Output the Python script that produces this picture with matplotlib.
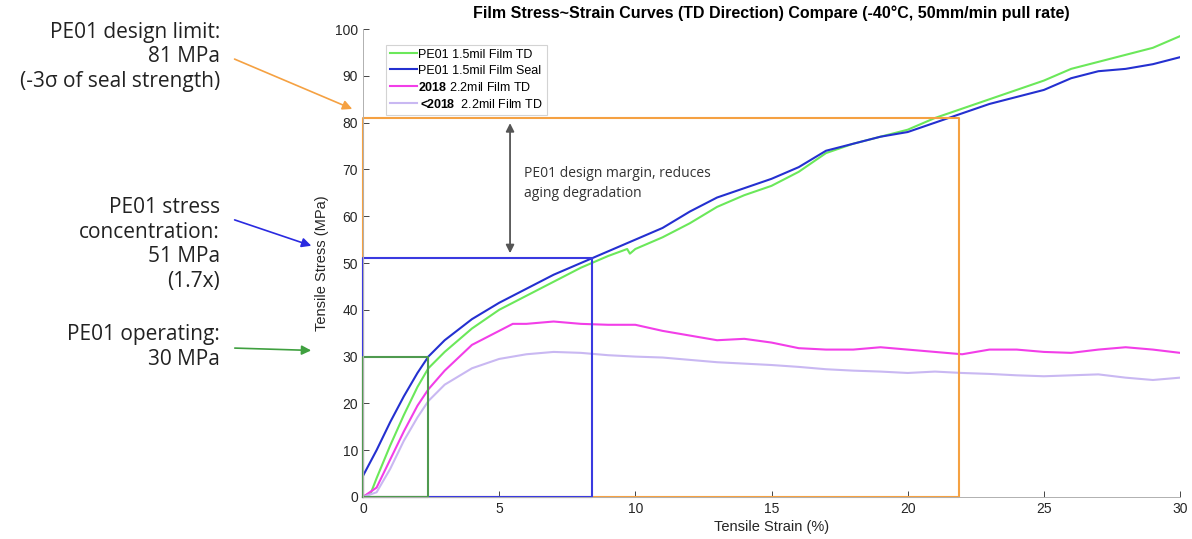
import numpy as np
import matplotlib.pyplot as plt

plt.rcParams['font.family'] = ['Liberation Sans', 'DejaVu Sans']
plt.rcParams['mathtext.fontset'] = 'custom'
plt.rcParams['mathtext.bf'] = 'Liberation Sans:bold'
plt.rcParams['mathtext.rm'] = 'Liberation Sans'

# Stress-strain curves, strain (%) vs stress (MPa)
strain_td = [0, 0.3, 0.5, 1, 1.5, 2, 2.4, 3, 4, 5, 6, 7, 8, 9, 9.7, 9.8, 10, 11, 12, 13,
             14, 15, 16, 17, 18, 19, 20, 21, 22, 23, 24, 25, 26, 27, 28, 29, 30]
stress_td = [0, 1, 4, 11, 17.5, 23.5, 27.5, 31, 36, 40, 43, 46, 49, 51.5, 53, 52, 53, 55.5, 58.5, 62,
             64.5, 66.5, 69.5, 73.5, 75.5, 77, 78.5, 81, 83, 85, 87, 89, 91.5, 93, 94.5, 96, 98.5]

strain_seal = [0, 0.5, 1, 1.5, 2, 2.4, 3, 4, 5, 6, 7, 8, 8.4, 10, 11, 12, 13, 14, 15,
               16, 17, 18, 19, 20, 21, 22, 23, 24, 25, 26, 27, 28, 29, 30]
stress_seal = [4.5, 10, 16, 21.5, 26.5, 30, 33.5, 38, 41.5, 44.5, 47.5, 50, 51, 55, 57.5, 61, 64, 66, 68,
               70.5, 74, 75.5, 77, 78, 80, 82, 84, 85.5, 87, 89.5, 91, 91.5, 92.5, 94]

strain_2018 = [0, 0.5, 1, 1.5, 2, 2.4, 3, 4, 5, 5.5, 6, 7, 8, 9, 10, 11, 12, 13, 14, 15,
               16, 17, 18, 19, 20, 21, 22, 23, 24, 25, 26, 27, 28, 29, 30]
stress_2018 = [0, 2, 8, 14, 19.5, 23, 27, 32.5, 35.5, 37, 37, 37.5, 37, 36.8, 36.8, 35.5, 34.5, 33.5, 33.8, 33,
               31.8, 31.5, 31.5, 32, 31.5, 31, 30.5, 31.5, 31.5, 31, 30.8, 31.5, 32, 31.5, 30.8]

strain_old = [0, 0.5, 1, 1.5, 2, 2.4, 3, 4, 5, 6, 7, 8, 9, 10, 11, 12, 13, 14, 15,
              16, 17, 18, 19, 20, 21, 22, 23, 24, 25, 26, 27, 28, 29, 30]
stress_old = [0, 1, 6, 12, 17, 20.5, 24, 27.5, 29.5, 30.5, 31, 30.8, 30.3, 30, 29.8, 29.3, 28.8, 28.5, 28.2,
              27.8, 27.3, 27, 26.8, 26.5, 26.8, 26.5, 26.3, 26, 25.8, 26, 26.2, 25.5, 25, 25.5]

# Reference levels: (strain, stress) corner of each box
op_point = (2.4, 30)
conc_point = (8.4, 51)
limit_point = (21.9, 81)

fig = plt.figure(figsize=(11.92, 5.39), dpi=100)
ax = fig.add_axes([0.3045, 0.078, 0.6855, 0.868])

ax.plot(strain_td, stress_td, color='#6be85a', lw=1.5, label='PE01 1.5mil Film TD')
ax.plot(strain_seal, stress_seal, color='#2430d0', lw=1.5, label='PE01 1.5mil Film Seal')
ax.plot(strain_2018, stress_2018, color='#f23ee8', lw=1.5, label=r'$\mathbf{2018}$ 2.2mil Film TD')
ax.plot(strain_old, stress_old, color='#c9b8f2', lw=1.5, label=r'$\mathbf{<\!\!2018}$  2.2mil Film TD')

for (px, py), c in [(limit_point, '#f5a142'), (conc_point, '#3a3ae0'), (op_point, '#4f9a4f')]:
    ax.plot([0, px, px, 0, 0], [0, 0, py, py, 0], color=c, lw=1.5, clip_on=False)

ax.annotate('', xy=(5.4, 80.5), xytext=(5.4, 51.5),
            arrowprops=dict(arrowstyle='<|-|>', color='#555555', lw=1.3, mutation_scale=12))
ax.text(5.9, 67, 'PE01 design margin, reduces\naging degradation', family='Open Sans',
        fontsize=10, color='#333333', va='center', linespacing=1.5)

ax.set_xlim(0, 30)
ax.set_ylim(0, 100)
ax.set_xticks(np.arange(0, 31, 5))
ax.set_yticks(np.arange(0, 101, 10))
ax.tick_params(direction='in', labelsize=10, colors='#262626', length=4, width=0.6)
for s in ['top', 'right']:
    ax.spines[s].set_visible(False)
for s in ['left', 'bottom']:
    ax.spines[s].set_color('#b0b0b0')
    ax.spines[s].set_linewidth(0.7)
ax.set_xlabel('Tensile Strain (%)', fontsize=10.5, color='#262626', labelpad=3)
ax.set_ylabel('Tensile Stress (MPa)', fontsize=10.5, color='#262626', labelpad=4)
ax.set_title('Film Stress~Strain Curves (TD Direction) Compare (-40°C, 50mm/min pull rate)',
             fontsize=11.5, fontweight='bold', pad=8)

leg = ax.legend(loc='upper left', bbox_to_anchor=(0.028, 0.966), fontsize=9, frameon=True,
                fancybox=False, edgecolor='#c8c8c8', handlelength=2.2, handletextpad=0.1,
                borderpad=0.3, labelspacing=0.32, borderaxespad=0)
leg.get_frame().set_linewidth(0.8)

# Side notes with arrows pointing at the stress axis
notes = [
    ('PE01 design limit:\n81 MPa\n(-3σ of seal strength)', 0.96, (-0.3, 82.7), (232, 481), '#f5a142'),
    ('PE01 stress\nconcentration:\n51 MPa\n(1.7x)', 0.634, (-1.8, 53.5), (232, 320), '#2a2ae0'),
    ('PE01 operating:\n30 MPa', 0.398, (-1.8, 31.3), (232, 191), '#3fa03f'),
]
for txt, ytop, tip, tail, c in notes:
    fig.text(0.1846, ytop, txt, ha='right', va='top', fontsize=15, family='Open Sans',
             color='#222222', linespacing=1.22)
    ax.annotate('', xy=tip, xycoords='data', xytext=tail, textcoords='figure pixels',
                arrowprops=dict(arrowstyle='-|>', color=c, lw=1.2, mutation_scale=14),
                annotation_clip=False)

fig.savefig('out.png', dpi=100)
